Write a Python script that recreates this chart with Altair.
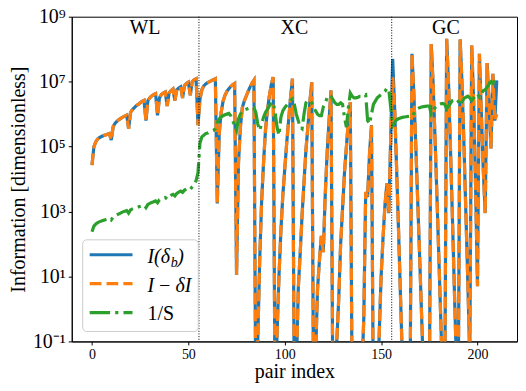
import altair as alt
import pandas as pd

# ---------------- data (log10 of the plotted values) ----------------
pair_index = list(range(211))

# I(delta_b): solid blue
info_log10 = [
    # WL 0..54
    4.43, 5.0, 5.15, 5.24, 5.28, 5.31, 5.34, 5.36, 5.38, 5.4,
    5.2, 5.62, 5.72, 5.78, 5.83, 5.87, 5.91, 5.94, 5.97,
    5.55, 6.05, 6.14, 6.2, 6.26, 6.3, 6.35, 6.39, 6.42,
    5.8, 6.42, 6.5, 6.56, 6.6, 6.63,
    5.96, 6.5, 6.6, 6.65, 6.68,
    6.25, 6.65, 6.72, 6.77,
    6.42, 6.75, 6.8, 6.84,
    6.5, 6.88, 6.94, 6.98,
    6.58, 7.0, 7.06, 7.09,
    # XC 55..155
    5.66, 6.45, 6.75, 6.87, 6.93, 6.97, 7.0, 7.03, 7.06, 7.09,
    3.25, 5.4, 6.05, 6.4, 6.58, 6.7, 6.78, 6.85, 6.9, 6.94,
    1.05, 4.5, 5.6, 6.2, 6.4, 6.55, 6.7, 6.83, 6.95, 7.04,
    -3.0, -1.0, 1.5, 3.3, 4.5, 5.5, 6.1, 6.55, 6.9, 7.14,
    -3.0, -0.8, 1.0, 2.4, 3.5, 4.3, 5.1, 5.8, 6.5, 7.09,
    -3.0, -2.0, 0.6, 1.7, 2.9, 3.9, 4.9, 5.6, 6.35, 6.98,
    -3.0, -1.5, 0.6, 1.5, 2.25, 1.75, 3.5, 4.8, 5.8, 6.73,
    -3.0, -3.0, -1.0, 0.3, 2.0, 3.1, 4.2, 5.0, 5.8, 6.37,
    -3.0, -3.0, -3.0, -3.0, -3.0, -2.0, -0.3, 3.6, 3.45, 4.8, 5.66,
    -3.0, -3.0, -3.0, -0.8, 1.0, 2.2, 3.2, 3.87, 2.95, 5.3,
    # GC 156..210
    7.7, 6.2, 4.4, 2.5, 0.5, -1.5, -3.0, -3.0, -3.0, -3.0,
    7.86, 6.6, 5.0, 3.3, 1.6, -0.2, -2.0, -3.0, -3.0, -3.0,
    8.16, 6.9, 5.2, 3.4, 1.5, -0.4, -2.5, -3.0,
    8.32, 6.9, 4.9, 2.8, 0.6, -1.5, -3.0,
    8.3, 6.9, 5.0, 2.9, 0.8, -1.5,
    8.11, 6.4, 3.8, 0.7,
    7.86, 6.0, 4.3, 2.95,
    7.57, 6.3, 4.94,
    7.24, 5.8,
    7.04,
]

# I - delta I: dashed orange, same as above except where it visibly departs
minus_log10 = list(info_log10)
minus_overrides = {156: 7.14, 210: 6.0}
for k, v in minus_overrides.items():
    minus_log10[k] = v

# 1/S: dash-dot green
inv_s_log10 = [
    # WL
    2.38, 2.55, 2.62, 2.66, 2.69, 2.71, 2.73, 2.75, 2.77, 2.79,
    2.74, 2.83, 2.87, 2.9, 2.93, 2.96, 2.99, 3.01, 3.03,
    2.95, 3.05, 3.08, 3.1, 3.12, 3.14, 3.16, 3.18, 3.2,
    3.12, 3.22, 3.25, 3.28, 3.3, 3.33,
    3.27, 3.36, 3.39, 3.41, 3.43,
    3.38, 3.46, 3.5, 3.53,
    3.48, 3.56, 3.6, 3.63,
    3.59, 3.66, 3.69, 3.72,
    3.68, 3.76, 3.82, 3.95,
    # XC
    4.2, 5.1, 5.3, 5.35, 5.4, 5.42, 5.45, 5.48, 5.5, 5.55,
    5.75, 5.85, 5.92, 5.95, 5.98, 6.0, 6.02, 5.95, 5.8, 5.65,
    5.5, 5.85, 6.0, 6.1, 6.13, 6.15, 6.17, 6.19, 6.2, 6.2,
    6.05, 5.7, 5.5, 5.7, 5.9, 6.05, 6.15, 6.25, 6.33, 6.37,
    6.05, 5.6, 5.35, 5.9, 6.1, 6.2, 6.27, 6.35, 6.42, 6.47,
    6.3, 6.0, 5.8, 5.6, 5.55, 6.0, 6.35, 6.42, 6.4, 6.35,
    6.2, 6.1, 6.0, 5.95, 5.95, 6.22, 6.35, 6.5, 6.58, 6.55,
    6.45, 6.35, 6.3, 6.3, 6.35, 6.3, 5.9, 5.6, 6.2, 6.65,
    6.55, 6.5, 6.5, 6.52, 6.55, 6.55, 6.58, 6.6, 5.8, 5.7, 6.0,
    6.3, 6.4, 6.5, 6.55, 6.6, 6.65, 6.7, 6.8, 6.75, 6.2,
    # GC
    5.65, 5.75, 5.82, 5.86, 5.88, 5.9, 5.91, 5.92, 5.93, 5.94,
    5.92, 6.02, 6.1, 6.17, 6.2, 6.22, 6.23, 6.24, 6.25, 6.25,
    6.0, 6.1, 6.2, 6.27, 6.3, 6.32, 6.33, 6.3,
    6.17, 6.25, 6.33, 6.42, 6.45, 6.47, 6.4,
    6.27, 6.38, 6.48, 6.52, 6.55, 6.5,
    6.42, 6.5, 6.6, 6.62,
    6.52, 6.62, 6.72, 6.75,
    6.83, 6.93, 7.0,
    6.95, 7.05,
    7.14,
]

section_names = ["WL", "XC", "GC"]
section_centers = [27.5, 105.0, 183.6]
section_boundaries = [55.5, 155.5]

x_ticks = [0, 50, 100, 150, 200]
y_ticks = [0.1, 10, 1000, 1e5, 1e7, 1e9]

# ---------------- build tables ----------------
def make_df(arr):
    return pd.DataFrame({"x": pair_index, "v": [10.0 ** a for a in arr]})

df_info = make_df(info_log10)
df_minus = make_df(minus_log10)
df_invs = make_df(inv_s_log10)

FONT = "Liberation Serif"
BLUE, ORANGE, GREEN = "#1f77b4", "#ff7f0e", "#2ca02c"
LW = 3.2

x_scale = alt.Scale(domain=[-10.5, 220.5], nice=False, zero=False)
y_scale = alt.Scale(type="log", domain=[0.1, 1e9], nice=False)

label_expr = ("'10' + (datum.value < 1 ? '\u207b\u00b9' : datum.value < 100 ? '\u00b9' : "
              "datum.value < 1e4 ? '\u00b3' : datum.value < 1e6 ? '\u2075' : "
              "datum.value < 1e8 ? '\u2077' : '\u2079')")

x_enc = alt.X("x:Q", scale=x_scale,
              axis=alt.Axis(values=x_ticks, title="pair index", labelFont=FONT,
                            titleFont=FONT, labelFontSize=14,
                            titleFontSize=20, labelPadding=3,
                            titleBaseline="alphabetic", titleY=36))
y_enc = alt.Y("v:Q", scale=y_scale,
              axis=alt.Axis(values=y_ticks, title="Information [dimensionless]",
                            labelFont=FONT, titleFont=FONT,
                            labelExpr=label_expr, labelFontSize=20, labelPadding=3,
                            titleFontSize=20, titlePadding=4))

blue = alt.Chart(df_info).mark_line(color=BLUE, strokeWidth=LW, clip=True).encode(x=x_enc, y=y_enc)
orange = alt.Chart(df_minus).mark_line(color=ORANGE, strokeWidth=LW, clip=True,
                                       strokeDash=[11.8, 5.1]).encode(x=x_enc, y=y_enc)
green = alt.Chart(df_invs).mark_line(color=GREEN, strokeWidth=LW, clip=True,
                                     strokeDash=[20.5, 5.1, 3.2, 5.1]).encode(x=x_enc, y=y_enc)

vlines = alt.Chart(pd.DataFrame({"x": section_boundaries})).mark_rule(
    color="black", strokeWidth=1, strokeDash=[1, 1.65]).encode(x=alt.X("x:Q", scale=x_scale))

labels = alt.Chart(pd.DataFrame({"x": section_centers, "t": section_names})).mark_text(
    font=FONT, fontSize=20, baseline="alphabetic", align="center", color="black"
).encode(x=alt.X("x:Q", scale=x_scale), y=alt.value(17), text="t:N")

one = pd.DataFrame({"a": [0]})
legend_box = alt.Chart(one).mark_rect(
    fill="white", fillOpacity=0.8, stroke="#cccccc", strokeWidth=1, cornerRadius=4
).encode(x=alt.value(11), x2=alt.value(127), y=alt.value(224), y2=alt.value(316))

def sample(y, color, dash=None):
    kw = dict(color=color, strokeWidth=LW)
    if dash:
        kw["strokeDash"] = dash
    return alt.Chart(one).mark_rule(**kw).encode(
        x=alt.value(18), x2=alt.value(61), y=alt.value(y))

def txt(s, x, y, size=20, style="normal"):
    return alt.Chart(one).mark_text(
        text=s, font=FONT, fontSize=size, fontStyle=style, align="left",
        baseline="alphabetic", color="black").encode(x=alt.value(x), y=alt.value(y))

legend = [
    legend_box,
    sample(239, BLUE),
    sample(268, ORANGE, [11.8, 5.1]),
    sample(297, GREEN, [20.5, 5.1, 3.2, 5.1]),
    txt("I(\u03b4", 76, 247, style="italic"),
    txt("b", 99.5, 251, size=14, style="italic"),
    txt(")", 106, 247, style="italic"),
    txt("I\u2009\u2212\u2009\u03b4I", 76, 276, style="italic"),
    txt("1/S", 76, 304),
]

chart = alt.layer(blue, orange, green, vlines, labels, *legend).properties(
    width=447, height=326,
    autosize=alt.AutoSizeParams(type="none"),
    padding={"left": 64, "top": 8, "right": 1, "bottom": 41},
).configure_view(stroke="black", strokeWidth=1).configure_axis(
    grid=False, labelFont=FONT, titleFont=FONT, labelColor="black", titleColor="black",
    titleFontWeight="normal", domainColor="black", tickColor="black", tickSize=3.5,
    domainWidth=1, tickWidth=1
)

chart.save("out.html", embed_options={"renderer": "svg", "actions": False})
